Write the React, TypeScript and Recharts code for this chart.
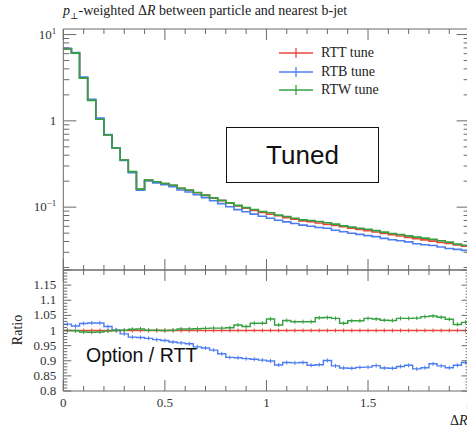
import React from 'react'
import { ComposedChart, Line, XAxis, YAxis } from 'recharts'

// pT-weighted ΔR histogram, 50 bins of 0.04 from 0 to 2
const BIN_WIDTH = 0.04

const rttTune = [
  6.8, 6.1, 3.14, 1.74, 1.05, 0.687, 0.485, 0.352, 0.257, 0.161,
  0.206, 0.197, 0.188, 0.179, 0.165, 0.157, 0.147, 0.137, 0.127, 0.119,
  0.111, 0.103, 0.0975, 0.0918, 0.0869, 0.0829, 0.0795, 0.0755, 0.0724, 0.0693,
  0.068, 0.0655, 0.0632, 0.0612, 0.0592, 0.0569, 0.0551, 0.0533, 0.0515, 0.0497,
  0.0479, 0.0463, 0.0447, 0.0432, 0.0418, 0.0404, 0.0391, 0.0379, 0.0366, 0.0353,
]

// ratios to the RTT tune
const rtbOverRtt = [
  1.021, 1.015, 1.023, 1.025, 1.025, 1.013, 1.002, 0.989, 0.978, 0.977,
  0.974, 0.97, 0.967, 0.962, 0.959, 0.956, 0.946, 0.942, 0.935, 0.923,
  0.911, 0.91, 0.907, 0.905, 0.902, 0.899, 0.886, 0.894, 0.893, 0.894,
  0.885, 0.887, 0.901, 0.883, 0.876, 0.875, 0.878, 0.879, 0.884, 0.876,
  0.875, 0.881, 0.885, 0.873, 0.877, 0.89, 0.883, 0.877, 0.885, 0.894,
]

const rtwOverRtt = [
  1.0, 0.999, 0.995, 0.994, 0.995, 0.998, 1.0, 1.001, 1.004, 1.005,
  1.001, 1.001, 1.0, 1.001, 1.005, 1.005, 1.006, 1.007, 1.008, 1.008,
  1.009, 1.018, 1.013, 1.024, 1.024, 1.038, 1.018, 1.033, 1.029, 1.029,
  1.029, 1.042, 1.043, 1.04, 1.024, 1.032, 1.032, 1.04, 1.038, 1.034,
  1.033, 1.04, 1.04, 1.041, 1.046, 1.048, 1.044, 1.037, 1.02, 1.027,
]

const xTicks = [0, 0.1, 0.2, 0.3, 0.4, 0.5, 0.6, 0.7, 0.8, 0.9, 1, 1.1, 1.2, 1.3, 1.4, 1.5, 1.6, 1.7, 1.8, 1.9, 2]
const xLabels: Record<string, string> = { '0': '0', '0.5': '0.5', '1': '1', '1.5': '1.5', '2': '2' }
const logTicks = [
  0.02, 0.03, 0.04, 0.05, 0.06, 0.07, 0.08, 0.09,
  0.1, 0.2, 0.3, 0.4, 0.5, 0.6, 0.7, 0.8, 0.9,
  1, 2, 3, 4, 5, 6, 7, 8, 9, 10,
]
const ratioTicks = [
  0.8, 0.81, 0.82, 0.83, 0.84, 0.85, 0.86, 0.87, 0.88, 0.89,
  0.9, 0.91, 0.92, 0.93, 0.94, 0.95, 0.96, 0.97, 0.98, 0.99,
  1, 1.01, 1.02, 1.03, 1.04, 1.05, 1.06, 1.07, 1.08, 1.09,
  1.1, 1.11, 1.12, 1.13, 1.14, 1.15, 1.16, 1.17, 1.18, 1.19, 1.2,
]
const ratioLabels = ['0.8', '0.85', '0.9', '0.95', '1', '1.05', '1.1', '1.15']

const series = [
  { key: 'rtt', ratioKey: 'rRtt', name: 'RTT tune', color: '#e8483c' },
  { key: 'rtb', ratioKey: 'rRtb', name: 'RTB tune', color: '#4d7ef0' },
  { key: 'rtw', ratioKey: 'rRtw', name: 'RTW tune', color: '#34a040' },
]

// histogram rows at the bin edges, last edge repeats the last bin
const edgeRows = [...rttTune, rttTune[rttTune.length - 1]].map((_, i) => {
  const b = Math.min(i, rttTune.length - 1)
  return {
    x: +(i * BIN_WIDTH).toFixed(2),
    rtt: rttTune[b],
    rtb: rttTune[b] * rtbOverRtt[b],
    rtw: rttTune[b] * rtwOverRtt[b],
    rRtt: 1,
    rRtb: rtbOverRtt[b],
    rRtw: rtwOverRtt[b],
  }
})

const centerRows = rttTune.map((_, i) => ({
  x: +((i + 0.5) * BIN_WIDTH).toFixed(2),
  rRtt: 1,
  rRtb: rtbOverRtt[i],
  rRtw: rtwOverRtt[i],
}))

const SERIF = '"Liberation Serif", "DejaVu Serif", serif'
const SANS = 'Arial, "Liberation Sans", sans-serif'
const FRAME = '#6a6a6a'
const TEXT = '#333'

const isHalf = (v: number) => Math.abs(v * 2 - Math.round(v * 2)) < 1e-6

function xTick(dir: 1 | -1, labels: boolean) {
  return (p: any) => {
    const { x, y, payload } = p
    const v = payload.value as number
    const major = isHalf(v)
    return (
      <g>
        <line x1={x} x2={x} y1={y} y2={y + dir * (major ? 11 : 5)} stroke={FRAME} strokeWidth={1} />
        {labels && major && (
          <text x={x} y={y + 16} textAnchor="middle" fontFamily={SERIF} fontSize={13} fill={TEXT}>
            {xLabels[String(v)]}
          </text>
        )}
      </g>
    )
  }
}

function logTick(dir: 1 | -1, labels: boolean) {
  return (p: any) => {
    const { x, y, payload } = p
    const v = payload.value as number
    const exp = Math.log10(v)
    const major = Math.abs(exp - Math.round(exp)) < 1e-6
    return (
      <g>
        <line x1={x} x2={x + dir * (major ? 13 : 6)} y1={y} y2={y} stroke={FRAME} strokeWidth={1} />
        {labels && major && (
          <text x={x - 7} y={y + 4} textAnchor="end" fontFamily={SERIF} fontSize={13} fill={TEXT}>
            {v === 1 ? '1' : (
              <>
                <tspan>10</tspan>
                <tspan dy={-5} fontSize={9}>{v > 1 ? '1' : '\u22121'}</tspan>
              </>
            )}
          </text>
        )}
      </g>
    )
  }
}

function ratioTick(dir: 1 | -1, labels: boolean) {
  return (p: any) => {
    const { x, y, payload } = p
    const v = payload.value as number
    const major = Math.abs(v * 20 - Math.round(v * 20)) < 1e-6
    const label = String(+v.toFixed(2))
    return (
      <g>
        <line x1={x} x2={x + dir * (major ? 8 : 4)} y1={y} y2={y} stroke={FRAME} strokeWidth={1} />
        {labels && major && ratioLabels.includes(label) && (
          <text x={x - 7} y={y + 4} textAnchor="end" fontFamily={SERIF} fontSize={13} fill={TEXT}>
            {label}
          </text>
        )}
      </g>
    )
  }
}

function errTick(color: string) {
  return (p: any) => {
    const { cx, cy } = p
    if (cx == null || cy == null) return <g />
    return <line x1={cx} x2={cx} y1={cy - 2} y2={cy + 2} stroke={color} strokeWidth={1} />
  }
}

function TuneLegend() {
  return (
    <div style={{ position: 'absolute', left: 279, top: 44, fontFamily: SERIF, fontSize: 14, lineHeight: '18px', color: '#222' }}>
      {series.map((s) => (
        <div key={s.key} style={{ display: 'flex', alignItems: 'center', height: 18.5 }}>
          <svg width={34} height={10} style={{ marginRight: 8 }}>
            <line x1={0} x2={34} y1={5} y2={5} stroke={s.color} strokeWidth={1.3} />
            <line x1={17} x2={17} y1={0} y2={10} stroke={s.color} strokeWidth={1.3} />
          </svg>
          <span>{s.name}</span>
        </div>
      ))}
    </div>
  )
}

const axisLine = { stroke: FRAME, strokeWidth: 1 }

export default function App() {
  return (
    <div style={{ position: 'absolute', left: 0, top: 0, width: 467, height: 427, overflow: 'hidden', background: '#fff' }}>
      {/* main panel */}
      <div style={{ position: 'absolute', left: 0, top: 0 }}>
        <ComposedChart width={490} height={280} data={edgeRows} margin={{ top: 19, right: 0.4, bottom: 0, left: 0 }}>
          <XAxis xAxisId="b" dataKey="x" type="number" domain={[0, 2]} allowDataOverflow ticks={xTicks} interval={0}
            height={10} tickSize={0} tickMargin={0} tickLine={false} axisLine={axisLine} tick={xTick(-1, false)} />
          <XAxis xAxisId="t" orientation="top" dataKey="x" type="number" domain={[0, 2]} allowDataOverflow ticks={xTicks} interval={0}
            height={10} tickSize={0} tickMargin={0} tickLine={false} axisLine={axisLine} tick={xTick(1, false)} />
          <YAxis yAxisId="l" type="number" scale="log" domain={[0.0187, 11.6]} allowDataOverflow ticks={logTicks} interval={0}
            width={63.3} tickSize={0} tickMargin={0} tickLine={false} axisLine={axisLine} tick={logTick(1, true)} />
          <YAxis yAxisId="r" orientation="right" type="number" scale="log" domain={[0.0187, 11.6]} allowDataOverflow ticks={logTicks} interval={0}
            width={20} tickSize={0} tickMargin={0} tickLine={false} axisLine={axisLine} tick={logTick(-1, false)} />
          {series.map((s) => (
            <Line key={s.key} xAxisId="b" yAxisId="l" type="stepAfter" dataKey={s.key} name={s.name}
              stroke={s.color} strokeWidth={1.6} dot={false} isAnimationActive={false} />
          ))}
        </ComposedChart>
      </div>
      <TuneLegend />

      {/* ratio panel */}
      <div style={{ position: 'absolute', left: 0, top: 260 }}>
        <ComposedChart width={490} height={167} data={edgeRows} margin={{ top: 0, right: 0.4, bottom: 0, left: 0 }}>
          <XAxis xAxisId="b" dataKey="x" type="number" domain={[0, 2]} allowDataOverflow ticks={xTicks} interval={0}
            height={36} tickSize={0} tickMargin={0} tickLine={false} axisLine={axisLine} tick={xTick(-1, true)} />
          <XAxis xAxisId="t" orientation="top" dataKey="x" type="number" domain={[0, 2]} allowDataOverflow ticks={xTicks} interval={0}
            height={10} tickSize={0} tickMargin={0} tickLine={false} axisLine={axisLine} tick={xTick(1, false)} />
          <YAxis yAxisId="l" type="number" domain={[0.8, 1.2]} allowDataOverflow ticks={ratioTicks} interval={0}
            width={63.3} tickSize={0} tickMargin={0} tickLine={false} axisLine={axisLine} tick={ratioTick(1, true)} />
          <YAxis yAxisId="r" orientation="right" type="number" domain={[0.8, 1.2]} allowDataOverflow ticks={ratioTicks} interval={0}
            width={20} tickSize={0} tickMargin={0} tickLine={false} axisLine={axisLine} tick={ratioTick(-1, false)} />
          {series.map((s) => (
            <Line key={s.ratioKey} xAxisId="b" yAxisId="l" type="stepAfter" dataKey={s.ratioKey}
              stroke={s.color} strokeWidth={1.4} dot={false} isAnimationActive={false} />
          ))}
          {series.map((s) => (
            <Line key={s.ratioKey + '-err'} data={centerRows} xAxisId="b" yAxisId="l" dataKey={s.ratioKey}
              stroke="none" dot={errTick(s.color)} activeDot={false} isAnimationActive={false} />
          ))}
        </ComposedChart>
      </div>

      {/* title and axis labels */}
      <div style={{ position: 'absolute', left: 63, top: 3, fontFamily: SERIF, fontSize: 14, color: '#222', whiteSpace: 'nowrap' }}>
        <i>p</i><sub style={{ fontSize: 9 }}>⊥</sub>-weighted Δ<i>R</i> between particle and nearest b-jet
      </div>
      <div style={{ position: 'absolute', left: 18, top: 330, transform: 'translate(-50%, -50%) rotate(-90deg)', fontFamily: SERIF, fontSize: 14, color: '#222' }}>
        Ratio
      </div>
      <div style={{ position: 'absolute', left: 450, top: 413, fontFamily: SERIF, fontSize: 14, color: '#222', whiteSpace: 'nowrap' }}>
        Δ<i>R</i>
      </div>

      {/* annotations */}
      <div style={{ position: 'absolute', left: 226, top: 127, width: 151, height: 54, border: '1.5px solid #111', background: '#fff',
        display: 'flex', alignItems: 'center', justifyContent: 'center', fontFamily: SANS, fontSize: 26, color: '#111' }}>
        Tuned
      </div>
      <div style={{ position: 'absolute', left: 86, top: 344, fontFamily: SANS, fontSize: 19.5, color: '#111', whiteSpace: 'nowrap' }}>
        Option / RTT
      </div>
    </div>
  )
}
